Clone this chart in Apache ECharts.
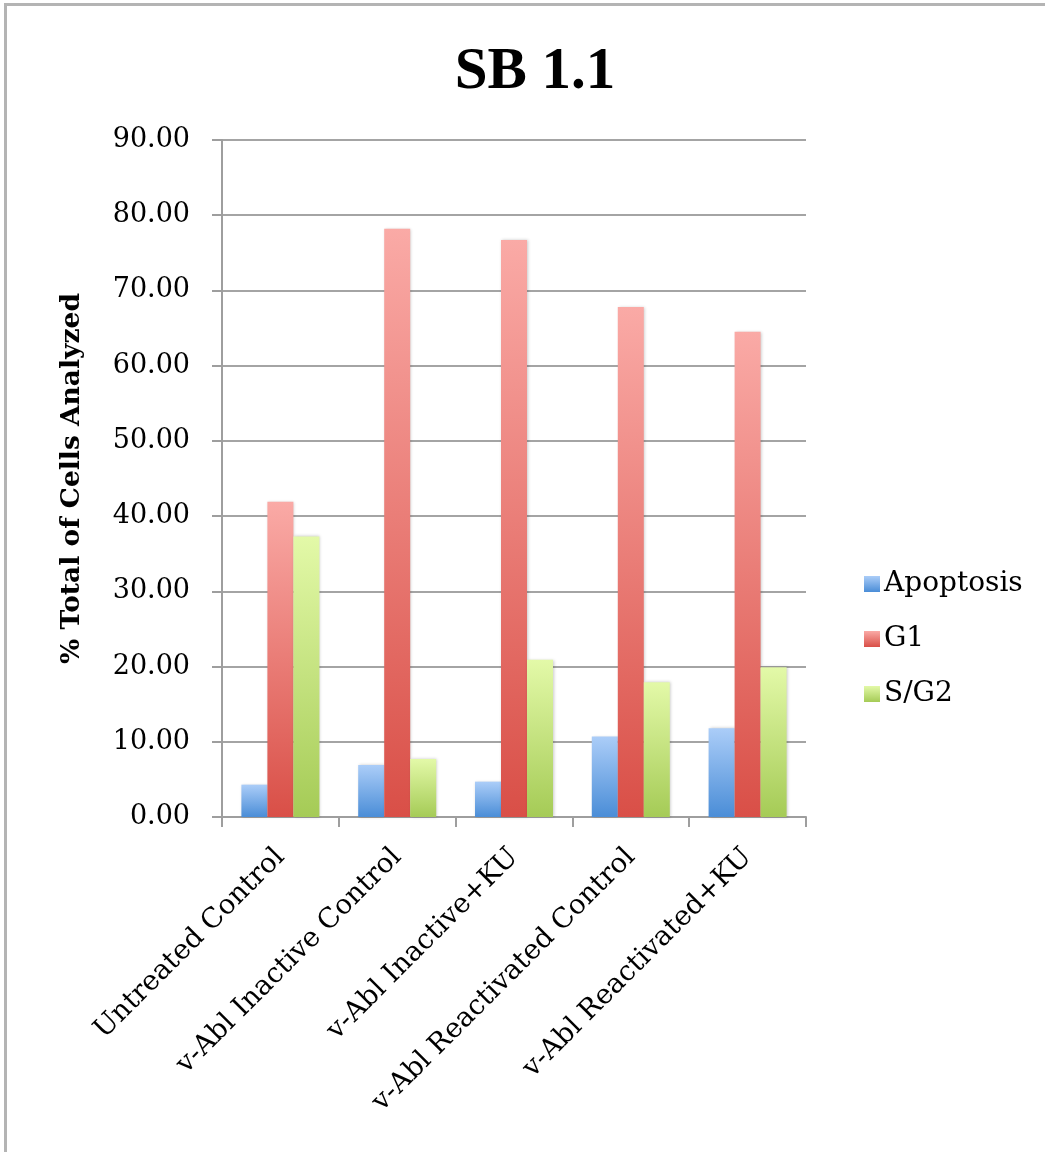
<!DOCTYPE html>
<html>
<head>
<meta charset="utf-8">
<script src="https://cdn.jsdelivr.net/npm/echarts@6/dist/echarts.min.js"></script>
<style>
  html, body { margin: 0; padding: 0; background: #fff; }
  #frame { position: absolute; left: 0; top: 0; width: 1045px; height: 1152px; }
  #edge { position: absolute; left: 4px; top: 3px; right: 0; bottom: 0;
          border-left: 3px solid #b4b4b4; border-top: 3px solid #b4b4b4; pointer-events: none; }
  #chart { position: absolute; left: 0; top: 0; width: 1045px; height: 1152px; }
</style>
</head>
<body>
<div id="frame">
  <div id="chart"></div>
  <div id="edge"></div>
</div>
<script>
// Cell-cycle distribution per treatment, percent of analysed cells
const categories = [
  'Untreated Control',
  'v-Abl Inactive Control',
  'v-Abl Inactive+KU',
  'v-Abl Reactivated Control',
  'v-Abl Reactivated+KU'
];
const apoptosis = [4.3, 6.9, 4.7, 10.7, 11.8];
const g1 = [41.9, 78.2, 76.7, 67.8, 64.5];
const sg2 = [37.3, 7.7, 20.9, 17.9, 19.9];
const yTicks = [0, 10, 20, 30, 40, 50, 60, 70, 80, 90];

const serif = '"DejaVu Serif", "Liberation Serif", serif';

function grad(top, bottom) {
  return new echarts.graphic.LinearGradient(0, 0, 0, 1, [
    { offset: 0, color: top },
    { offset: 1, color: bottom }
  ]);
}

const palette = {
  Apoptosis: ['#abcdf8', '#4a8dd7'],
  G1: ['#faaaa6', '#d94f47'],
  'S/G2': ['#e3f9a8', '#a5cb56']
};

function barSeries(name, values) {
  const c = palette[name];
  return {
    name: name,
    type: 'bar',
    data: values,
    barWidth: 26,
    barGap: '0%',
    itemStyle: {
      color: grad(c[0], c[1]),
      shadowColor: 'rgba(0,0,0,0.22)',
      shadowBlur: 3,
      shadowOffsetX: 1
    },
    emphasis: { disabled: true }
  };
}

const chart = echarts.init(document.getElementById('chart'), null, { renderer: 'canvas' });

chart.setOption({
  animation: false,
  backgroundColor: '#ffffff',
  title: {
    text: 'SB 1.1',
    left: 530,
    top: 38,
    textAlign: 'center',
    textStyle: {
      fontFamily: '"Liberation Serif", serif',
      fontWeight: 'bold',
      fontSize: 59,
      color: '#000'
    }
  },
  legend: {
    orient: 'vertical',
    left: 859,
    top: 563,
    itemWidth: 16,
    itemHeight: 16,
    itemGap: 23,
    icon: 'rect',
    selectedMode: false,
    textStyle: {
      fontFamily: serif,
      fontSize: 28,
      lineHeight: 32,
      color: '#000',
      padding: [0, 0, 0, -1]
    },
    data: ['Apoptosis', 'G1', 'S/G2']
  },
  grid: {
    left: 222,
    right: 239,
    top: 140,
    bottom: 335,
    containLabel: false
  },
  xAxis: {
    type: 'category',
    data: categories,
    axisLine: { show: true, lineStyle: { color: '#9e9e9e', width: 2 } },
    axisTick: { show: true, length: 10, lineStyle: { color: '#9e9e9e', width: 2 } },
    axisLabel: {
      rotate: 45,
      margin: 36,
      fontFamily: serif,
      fontSize: 27.5,
      color: '#000',
      interval: 0
    },
    splitLine: { show: false }
  },
  yAxis: {
    type: 'value',
    min: yTicks[0],
    max: yTicks[yTicks.length - 1],
    interval: 10,
    name: '% Total of Cells Analyzed',
    nameLocation: 'middle',
    nameGap: 136,
    nameTextStyle: {
      fontFamily: serif,
      fontWeight: 'bold',
      fontSize: 26.5,
      color: '#000'
    },
    axisLine: { show: true, lineStyle: { color: '#9e9e9e', width: 2 } },
    axisTick: { show: true, inside: false, length: 10, lineStyle: { color: '#9e9e9e', width: 2 } },
    axisLabel: {
      margin: 32,
      fontFamily: serif,
      fontSize: 27,
      color: '#000',
      formatter: v => v.toFixed(2)
    },
    splitLine: { show: true, lineStyle: { color: '#a4a4a4', width: 2 } }
  },
  series: [
    barSeries('Apoptosis', apoptosis),
    barSeries('G1', g1),
    barSeries('S/G2', sg2)
  ]
});
</script>
</body>
</html>
